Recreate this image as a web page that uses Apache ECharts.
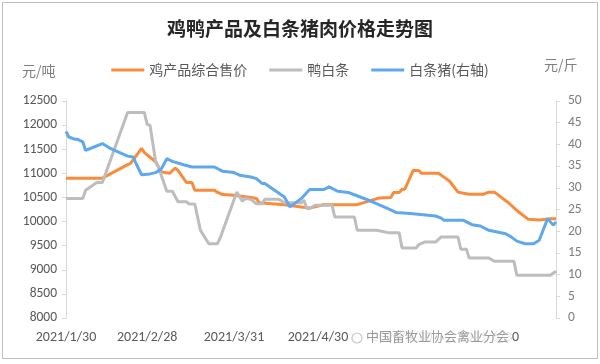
<!DOCTYPE html>
<html>
<head>
<meta charset="utf-8">
<script src="https://cdn.jsdelivr.net/npm/echarts@6/dist/echarts.min.js"></script>
<style>
html,body{margin:0;padding:0;background:#fff;}
#chart{width:600px;height:364px;}
</style>
</head>
<body>
<div id="chart"></div>
<script>
// ---- data ----
const titleText = '鸡鸭产品及白条猪肉价格走势图';
const seriesNames = ['鸡产品综合售价', '鸭白条', '白条猪(右轴)'];
const xTickDates = ['2021-01-30', '2021-02-28', '2021-03-31', '2021-04-30', '2021-05-30', '2021-06-30'];
const leftTicks = [8000, 12500, 500];
const rightTicks = [0, 50, 5];

const chickenDates = ['2021-01-30','2021-02-12','2021-02-21','2021-02-22','2021-02-26','2021-02-27','2021-03-03','2021-03-05','2021-03-08','2021-03-10','2021-03-11','2021-03-14','2021-03-16','2021-03-17','2021-03-24','2021-03-25','2021-03-27','2021-03-31','2021-04-06','2021-04-08','2021-04-09','2021-04-18','2021-04-24','2021-04-27','2021-05-02','2021-05-14','2021-05-22','2021-05-26','2021-05-27','2021-05-29','2021-05-30','2021-05-31','2021-06-03','2021-06-05','2021-06-06','2021-06-12','2021-06-15','2021-06-16','2021-06-19','2021-06-23','2021-06-28','2021-06-30','2021-07-02','2021-07-07','2021-07-10','2021-07-14','2021-07-18','2021-07-22','2021-07-24'];
const chickenValues = [10900,10900,11180,11200,11520,11430,11240,11030,11000,11110,11060,10810,10810,10650,10650,10610,10560,10545,10500,10480,10390,10350,10300,10280,10350,10350,10490,10500,10600,10600,10670,10670,11060,11060,11000,11000,10880,10835,10610,10565,10565,10610,10610,10390,10230,10050,10030,10060,10060];

const duckDates = ['2021-01-30','2021-02-05','2021-02-06','2021-02-10','2021-02-12','2021-02-21','2021-02-27','2021-02-28','2021-03-01','2021-03-03','2021-03-04','2021-03-07','2021-03-09','2021-03-11','2021-03-14','2021-03-15','2021-03-17','2021-03-19','2021-03-22','2021-03-25','2021-03-26','2021-03-29','2021-04-01','2021-04-03','2021-04-04','2021-04-06','2021-04-08','2021-04-10','2021-04-11','2021-04-16','2021-04-18','2021-04-24','2021-04-25','2021-04-26','2021-04-27','2021-04-29','2021-05-05','2021-05-06','2021-05-13','2021-05-14','2021-05-21','2021-05-25','2021-05-29','2021-05-30','2021-06-04','2021-06-05','2021-06-07','2021-06-11','2021-06-13','2021-06-19','2021-06-20','2021-06-22','2021-06-23','2021-06-30','2021-07-02','2021-07-09','2021-07-10','2021-07-22','2021-07-24'];
const duckValues = [10480,10480,10650,10810,10810,12260,12260,12010,12000,11250,11130,10630,10630,10410,10410,10365,10365,9820,9540,9540,9650,10130,10610,10420,10480,10460,10370,10370,10460,10460,10390,10390,10440,10270,10270,10340,10340,10095,10095,9820,9820,9770,9770,9450,9450,9520,9575,9575,9680,9680,9425,9425,9245,9245,9175,9175,8885,8885,8970];

const porkDates = ['2021-01-30','2021-01-31','2021-02-02','2021-02-03','2021-02-05','2021-02-06','2021-02-09','2021-02-12','2021-02-15','2021-02-21','2021-02-23','2021-02-24','2021-02-26','2021-03-01','2021-03-03','2021-03-05','2021-03-07','2021-03-09','2021-03-13','2021-03-16','2021-03-24','2021-03-27','2021-03-31','2021-04-02','2021-04-06','2021-04-08','2021-04-10','2021-04-11','2021-04-18','2021-04-20','2021-04-24','2021-04-27','2021-05-02','2021-05-04','2021-05-07','2021-05-11','2021-05-13','2021-05-19','2021-05-25','2021-05-28','2021-06-02','2021-06-11','2021-06-13','2021-06-14','2021-06-21','2021-06-24','2021-06-27','2021-06-30','2021-07-06','2021-07-08','2021-07-10','2021-07-13','2021-07-16','2021-07-18','2021-07-21','2021-07-23','2021-07-24'];
const porkValues = [43.0,41.7,41.2,41.2,40.6,38.6,39.4,40.2,39.0,37.3,37.1,35.6,33.0,33.2,33.5,34.3,36.7,36.1,35.3,34.8,34.8,33.8,33.5,32.9,32.5,32.1,31.0,31.0,27.9,25.6,27.5,29.6,29.6,30.2,29.2,28.9,28.4,26.9,25.2,24.3,24.1,23.5,23.0,22.5,22.5,21.5,21.2,20.2,19.4,18.7,17.7,17.1,17.1,17.9,22.9,21.4,22.1];

const xMinDate = '2021-01-30';
const xMaxDate = '2021-07-24';
// ---- end data ----

const DAY = 86400000;
function ts(s){ const p = s.split('-').map(Number); return Date.UTC(p[0], p[1]-1, p[2]); }
const t0 = ts(xMinDate);
function dayNo(s){ return Math.round((ts(s) - t0) / DAY); }
function pairs(ds, vs){ return ds.map((d,i)=>[dayNo(d), vs[i]]); }
function fmtDay(n){ const d = new Date(t0 + n*DAY); return d.getUTCFullYear()+'/'+(d.getUTCMonth()+1)+'/'+d.getUTCDate(); }

const labelColor = '#595959';
const axisColor = '#D9D9D9';
const font = 'Calibri, Carlito, "Liberation Sans", "Noto Sans CJK SC", sans-serif';
const cjkFont = '"Noto Sans CJK SC", "Microsoft YaHei", sans-serif';

const chart = echarts.init(document.getElementById('chart'), null, {renderer:'canvas'});
chart.setOption({
  backgroundColor: '#fff',
  animation: false,
  title: {
    text: titleText, left: 'center', top: 14,
    textStyle: {fontSize: 19, fontWeight: 'bold', color: '#262626', fontFamily: cjkFont}
  },
  legend: {
    top: 58, left: 'center', itemGap: 22, itemWidth: 33, itemHeight: 3, icon: 'rect',
    textStyle: {fontSize: 14, color: labelColor, fontFamily: cjkFont},
    data: seriesNames
  },
  grid: {left: 66, right: 44, top: 101, bottom: 46, containLabel: false},
  xAxis: {
    type: 'value', min: 0, max: dayNo(xMaxDate),
    axisLine: {show: false}, axisTick: {show: false}, splitLine: {show: false},
    axisLabel: {
      customValues: xTickDates.map(dayNo),
      margin: 13, fontSize: 14, color: labelColor, fontFamily: font,
      formatter: function(v){ return fmtDay(v); }
    }
  },
  yAxis: [{
    type: 'value', min: leftTicks[0], max: leftTicks[1], interval: leftTicks[2], position: 'left',
    axisLine: {show: true, lineStyle: {color: axisColor}},
    axisTick: {show: true, length: 4, lineStyle: {color: axisColor}},
    splitLine: {show: false},
    axisLabel: {fontSize: 13.5, color: labelColor, margin: 9, fontFamily: font, formatter: function(v){ return String(v); }}
  }, {
    type: 'value', min: rightTicks[0], max: rightTicks[1], interval: rightTicks[2], position: 'right',
    axisLine: {show: true, lineStyle: {color: axisColor}},
    axisTick: {show: true, length: 4, lineStyle: {color: axisColor}},
    splitLine: {show: false},
    axisLabel: {fontSize: 13.5, color: '#7f7f7f', margin: 12, fontFamily: font, formatter: function(v){ return String(v); }}
  }],
  series: [{
    name: seriesNames[0], type: 'line', yAxisIndex: 0, showSymbol: false,
    data: pairs(chickenDates, chickenValues),
    itemStyle: {color: '#F98B3A'}, lineStyle: {width: 3, color: '#F98B3A'}
  }, {
    name: seriesNames[1], type: 'line', yAxisIndex: 0, showSymbol: false,
    data: pairs(duckDates, duckValues),
    itemStyle: {color: '#BDBDBD'}, lineStyle: {width: 3, color: '#BDBDBD'}
  }, {
    name: seriesNames[2], type: 'line', yAxisIndex: 1, showSymbol: false,
    data: pairs(porkDates, porkValues),
    itemStyle: {color: '#5FA8EE'}, lineStyle: {width: 3, color: '#5FA8EE'}
  }],
  graphic: [
    {type: 'rect', shape: {x: 2.5, y: 2.5, width: 595, height: 356}, style: {fill: 'none', stroke: '#BFBFBF', lineWidth: 1}, silent: true},
    {type: 'text', left: 22, top: 64, style: {text: '元/吨', fontSize: 14, fill: '#7f7f7f', fontFamily: cjkFont}},
    {type: 'text', left: 544, top: 58, style: {text: '元/斤', fontSize: 14, fill: '#7f7f7f', fontFamily: cjkFont}},
    {type: 'rect', shape: {x: 350, y: 328, width: 161, height: 20}, style: {fill: 'rgba(255,255,255,0.85)'}, z: 100},
    {type: 'circle', shape: {cx: 357, cy: 338, r: 5}, style: {fill: 'none', stroke: '#c8c8c8', lineWidth: 1.2}, z: 101},
    {type: 'text', left: 366, top: 330, z: 101, style: {text: '中国畜牧业协会禽业分会', fontSize: 13, fill: '#9a9a9a', fontFamily: cjkFont}}
  ]
});
</script>
</body>
</html>
